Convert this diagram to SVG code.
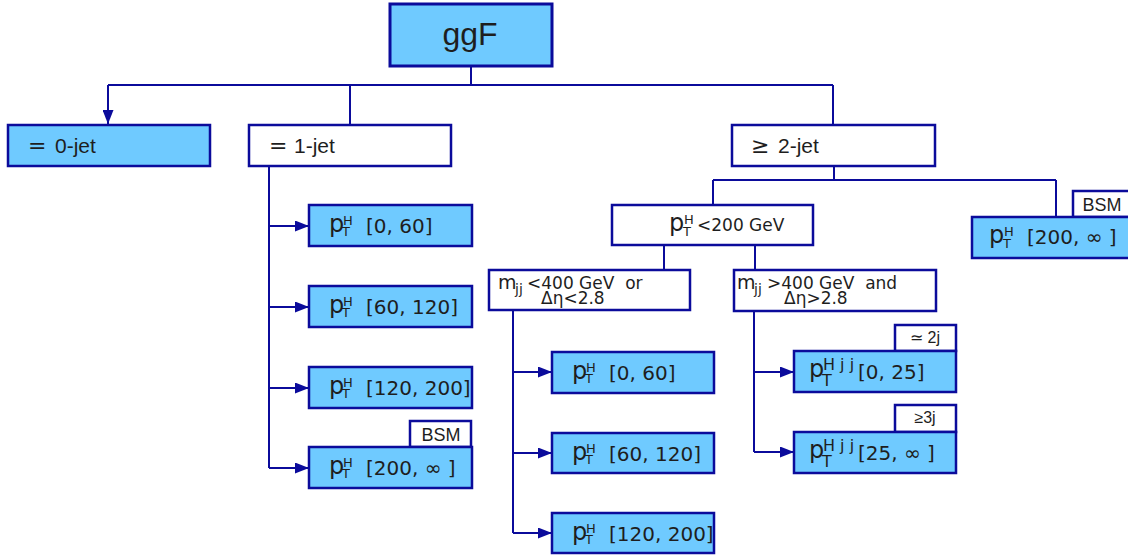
<svg xmlns="http://www.w3.org/2000/svg" width="1128" height="555" viewBox="0 0 1128 555">
<style>
.b{fill:#6fcaff;stroke:#0b0b9b;stroke-width:2.5}
.w{fill:#ffffff;stroke:#0b0b9b;stroke-width:2.5}
.c{fill:none;stroke:#0b0b9b;stroke-width:2}
.a{font-family:"Liberation Sans",Arial,sans-serif;fill:#1e1e1e}
.d{font-family:"DejaVu Sans",Verdana,sans-serif;fill:#1e1e1e}
.p{font-size:24px}
.s{font-size:13px}
.n{font-size:20px}
.m{font-size:17px}
.h{font-size:16px}
.q{font-family:"DejaVu Sans",sans-serif;font-size:22px}
</style>
<defs>
<marker id="ar" markerWidth="14" markerHeight="11" refX="14" refY="5.5" orient="auto" markerUnits="userSpaceOnUse">
<path d="M0,0 L14,5.5 L0,11 z" fill="#0b0b9b"/>
</marker>
</defs>
<rect width="1128" height="555" fill="#ffffff"/>
<g id="connectors">
<path class="c" d="M471,66 V85 M108,85 H833 M350,85 V125 M833,85 V125"/>
<path class="c" d="M108,85 V124" marker-end="url(#ar)"/>
<path class="c" d="M269,166 V468"/>
<path class="c" d="M269,226 H309" marker-end="url(#ar)"/>
<path class="c" d="M269,307 H309" marker-end="url(#ar)"/>
<path class="c" d="M269,388 H309" marker-end="url(#ar)"/>
<path class="c" d="M269,468 H309" marker-end="url(#ar)"/>
<path class="c" d="M834,166 V180 M713,180 H1056 M713,180 V205 M1056,180 V217"/>
<path class="c" d="M664,245 V270 M755,245 V270"/>
<path class="c" d="M513,310 V533"/>
<path class="c" d="M513,372 H552" marker-end="url(#ar)"/>
<path class="c" d="M513,453 H552" marker-end="url(#ar)"/>
<path class="c" d="M513,533 H552" marker-end="url(#ar)"/>
<path class="c" d="M754,311 V452"/>
<path class="c" d="M754,372 H794" marker-end="url(#ar)"/>
<path class="c" d="M754,452 H794" marker-end="url(#ar)"/>
</g>
<g id="ggF">
<rect x="390" y="4" width="162" height="62" fill="#6fcaff" stroke="#0b0b9b" stroke-width="3"/>
<text class="a" x="470" y="45" font-size="32" text-anchor="middle">ggF</text>
</g>
<g id="jet0">
<rect class="b" x="8" y="125" width="202" height="41"/>
<text class="a" x="28" y="153" font-size="21"><tspan class="q">=</tspan><tspan x="55">0-jet</tspan></text>
</g>
<g id="jet1">
<rect class="w" x="249" y="125" width="202" height="41"/>
<text class="a" x="269" y="153" font-size="21"><tspan class="q">=</tspan><tspan x="294">1-jet</tspan></text>
</g>
<g id="jet2">
<rect class="w" x="732" y="125" width="203" height="41"/>
<text class="a" x="751" y="153" font-size="21"><tspan class="q">≥</tspan><tspan x="778">2-jet</tspan></text>
</g>
<g id="j1_0_60">
<rect class="b" x="309" y="205" width="163" height="41"/>
<text class="d p" x="329" y="232">p<tspan class="s" x="343" y="225">H</tspan><tspan class="s" x="342" y="236">T</tspan><tspan class="n" x="366" y="233">[0, 60]</tspan></text>
</g>
<g id="j1_60_120">
<rect class="b" x="309" y="286" width="163" height="41"/>
<text class="d p" x="329" y="313">p<tspan class="s" x="343" y="306">H</tspan><tspan class="s" x="342" y="317">T</tspan><tspan class="n" x="366" y="314">[60, 120]</tspan></text>
</g>
<g id="j1_120_200">
<rect class="b" x="309" y="367" width="163" height="41"/>
<text class="d p" x="329" y="394">p<tspan class="s" x="343" y="387">H</tspan><tspan class="s" x="342" y="398">T</tspan><tspan class="n" x="366" y="395">[120, 200]</tspan></text>
</g>
<g id="j1_bsm_tag">
<rect class="w" x="410" y="421" width="61" height="26"/>
<text class="a" x="441" y="441" font-size="18" text-anchor="middle">BSM</text>
</g>
<g id="j1_200_inf">
<rect class="b" x="309" y="447" width="163" height="41"/>
<text class="d p" x="329" y="474">p<tspan class="s" x="343" y="467">H</tspan><tspan class="s" x="342" y="478">T</tspan><tspan class="n" x="366" y="475">[200, ∞ ]</tspan></text>
</g>
<g id="pt_lt_200">
<rect class="w" x="612" y="205" width="201" height="40"/>
<text class="d p" x="669" y="231">p<tspan class="s" x="684" y="224">H</tspan><tspan class="s" x="683" y="236">T</tspan><tspan class="m" x="697" y="231">&lt;200 GeV</tspan></text>
</g>
<g id="j2_bsm_tag">
<rect class="w" x="1073" y="191" width="60" height="26"/>
<text class="a" x="1102" y="211" font-size="18" text-anchor="middle">BSM</text>
</g>
<g id="j2_200_inf">
<rect class="b" x="972" y="217" width="161" height="41"/>
<text class="d p" x="989" y="243">p<tspan class="s" x="1004" y="236">H</tspan><tspan class="s" x="1003" y="248">T</tspan><tspan class="n" x="1027" y="244">[200, ∞ ]</tspan></text>
</g>
<g id="mjj_low">
<rect class="w" x="489" y="270" width="201" height="40"/>
<text class="d" x="498" y="289" font-size="19">m<tspan x="515" y="294" font-size="14">jj</tspan><tspan class="m" x="527" y="289">&lt;400 GeV&#160; or</tspan></text>
<text class="d m" x="541" y="304">Δη&lt;2.8</text>
</g>
<g id="mjj_high">
<rect class="w" x="734" y="270" width="202" height="41"/>
<text class="d" x="737" y="289" font-size="19">m<tspan x="754" y="294" font-size="14">jj</tspan><tspan class="m" x="767" y="289">&gt;400 GeV&#160; and</tspan></text>
<text class="d m" x="784" y="304">Δη&gt;2.8</text>
</g>
<g id="j2_0_60">
<rect class="b" x="552" y="352" width="162" height="41"/>
<text class="d p" x="572" y="379">p<tspan class="s" x="586" y="372">H</tspan><tspan class="s" x="585" y="383">T</tspan><tspan class="n" x="609" y="380">[0, 60]</tspan></text>
</g>
<g id="j2_60_120">
<rect class="b" x="552" y="433" width="162" height="40"/>
<text class="d p" x="572" y="460">p<tspan class="s" x="586" y="453">H</tspan><tspan class="s" x="585" y="464">T</tspan><tspan class="n" x="609" y="461">[60, 120]</tspan></text>
</g>
<g id="j2_120_200">
<rect class="b" x="552" y="513" width="162" height="40"/>
<text class="d p" x="572" y="540">p<tspan class="s" x="586" y="533">H</tspan><tspan class="s" x="585" y="544">T</tspan><tspan class="n" x="609" y="541">[120, 200]</tspan></text>
</g>
<g id="tag_2j">
<rect class="w" x="895" y="325" width="61" height="26"/>
<text class="a" x="925" y="343" font-size="16" text-anchor="middle">≃ 2j</text>
</g>
<g id="hjj_0_25">
<rect class="b" x="794" y="351" width="162" height="41"/>
<text class="d p" x="809" y="377">p<tspan class="h" x="823" y="370">H j j</tspan><tspan class="h" x="822" y="386">T</tspan><tspan class="n" x="858" y="379">[0, 25]</tspan></text>
</g>
<g id="tag_3j">
<rect class="w" x="895" y="405" width="61" height="27"/>
<text class="a" x="925" y="423" font-size="16" text-anchor="middle">≥3j</text>
</g>
<g id="hjj_25_inf">
<rect class="b" x="794" y="432" width="162" height="41"/>
<text class="d p" x="809" y="458">p<tspan class="h" x="823" y="451">H j j</tspan><tspan class="h" x="822" y="467">T</tspan><tspan class="n" x="858" y="460">[25, ∞ ]</tspan></text>
</g>
</svg>
